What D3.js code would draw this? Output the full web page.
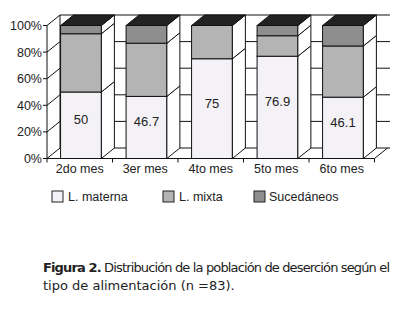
<!DOCTYPE html>
<html lang="es">
  <head>
    <meta charset="utf-8">
    <title>Figura 2 | Distribución de la población de deserción</title>
    <script type="text/javascript" src="https://cdn.jsdelivr.net/npm/d3@7/dist/d3.min.js"></script>

    <style>
    body {
      margin: 0;
      background: #fff;
    }
    #chart text {
      font-family: "Liberation Sans", Arial, sans-serif;
      fill: #222;
    }
    #chart .caption text {
      font-family: "DejaVu Sans", sans-serif;
    }
    </style>
  </head>
  <body>

    <div id="chart"></div>

    <script type="text/javascript">

      // data
      var categories = ["2do mes", "3er mes", "4to mes", "5to mes", "6to mes"];
      var seriesNames = ["L. materna", "L. mixta", "Sucedáneos"];
      var maternaValues = [50, 46.7, 75, 76.9, 46.1];
      var mixtaValues = [43.8, 40, 25, 15.4, 38.5];
      var sucedaneosValues = [6.2, 13.3, 0, 7.7, 15.4];
      var yTicks = [0, 20, 40, 60, 80, 100];
      var captionBold = "Figura 2.";
      var captionLine1 = " Distribución de la población de deserción según el";
      var captionLine2 = "tipo de alimentación (n =83).";

      var colors = ["#f4f2f7", "#b4b4b4", "#8e8e8e"];

      var width = 396, height = 312;
      var depthX = 13, depthY = -10.5; // 3d offset of the back plane

      // table for the stack
      var table = categories.map(function(c, i) {
        var row = {cat: c};
        row[seriesNames[0]] = maternaValues[i];
        row[seriesNames[1]] = mixtaValues[i];
        row[seriesNames[2]] = sucedaneosValues[i];
        return row;
      });

      var stacked = d3.stack().keys(seriesNames)(table);

      var svg = d3.select("#chart").append("svg")
          .attr("width", width)
          .attr("height", height);

      var x = d3.scaleBand()
          .domain(categories)
          .range([47, 374.5])
          .paddingInner(0.377)
          .paddingOuter(0.1885)
          .align(0.55);

      // plain band (no padding) for the labels and separators
      var xAxisBand = d3.scaleBand()
          .domain(categories)
          .range([47, 374.5]);

      var y = d3.scaleLinear()
          .domain([0, 100])
          .range([158.5, 25.5]);

      var x0 = xAxisBand.range()[0], x1 = xAxisBand.range()[1];

      var walls = svg.append("g")
          .attr("stroke", "#111")
          .attr("stroke-width", 1)
          .attr("fill", "none");

      // back wall gridlines
      walls.selectAll(".backgrid")
          .data(yTicks)
          .enter().append("line")
            .attr("x1", x0 + depthX)
            .attr("x2", x1 + depthX + 2.5)
            .attr("y1", function(d) { return y(d) + depthY; })
            .attr("y2", function(d) { return y(d) + depthY; });

      // left wall gridlines (diagonals)
      walls.selectAll(".sidegrid")
          .data(yTicks)
          .enter().append("line")
            .attr("x1", x0)
            .attr("x2", x0 + depthX)
            .attr("y1", function(d) { return y(d); })
            .attr("y2", function(d) { return y(d) + depthY; });

      // left wall back edge
      walls.append("line")
          .attr("x1", x0 + depthX).attr("x2", x0 + depthX)
          .attr("y1", y(0) + depthY).attr("y2", y(100) + depthY);

      // floor: right edge
      walls.append("line")
          .attr("x1", x1).attr("x2", x1 + depthX)
          .attr("y1", y(0)).attr("y2", y(0) + depthY);

      // bars
      var barGroups = svg.selectAll(".serie")
          .data(stacked)
          .enter().append("g")
            .attr("class", "serie");

      var segs = barGroups.selectAll(".seg")
          .data(function(s, si) {
            return s.map(function(d) {
              return {cat: d.data.cat, y0: d[0], y1: d[1], si: si};
            }).filter(function(d) { return d.y1 - d.y0 > 0; });
          })
          .enter().append("g")
            .attr("class", "seg");

      // front face
      segs.append("rect")
          .attr("x", function(d) { return x(d.cat); })
          .attr("y", function(d) { return y(d.y1); })
          .attr("width", x.bandwidth())
          .attr("height", function(d) { return y(d.y0) - y(d.y1); })
          .attr("fill", function(d) { return colors[d.si]; })
          .attr("stroke", "#111")
          .attr("stroke-width", 1);

      // side face (white in the print)
      segs.append("path")
          .attr("d", function(d) {
            var xr = x(d.cat) + x.bandwidth();
            return "M" + xr + "," + y(d.y0) +
                   "L" + xr + "," + y(d.y1) +
                   "L" + (xr + depthX) + "," + (y(d.y1) + depthY) +
                   "L" + (xr + depthX) + "," + (y(d.y0) + depthY) + "Z";
          })
          .attr("fill", "#fff")
          .attr("stroke", "#111")
          .attr("stroke-width", 1);

      // top face of each full bar
      svg.selectAll(".top")
          .data(categories)
          .enter().append("path")
            .attr("d", function(c) {
              var xl = x(c), xr = x(c) + x.bandwidth(), yt = y(100);
              return "M" + xl + "," + yt +
                     "L" + (xl + depthX) + "," + (yt + depthY) +
                     "L" + (xr + depthX) + "," + (yt + depthY) +
                     "L" + xr + "," + yt + "Z";
            })
            .attr("fill", "#222")
            .attr("stroke", "#111")
            .attr("stroke-width", 1);

      // front axes
      var axes = svg.append("g")
          .attr("stroke", "#111")
          .attr("stroke-width", 1);

      axes.append("line")
          .attr("x1", x0).attr("x2", x0)
          .attr("y1", y(0)).attr("y2", y(100));

      axes.append("line")
          .attr("x1", x0).attr("x2", x1)
          .attr("y1", y(0)).attr("y2", y(0));

      axes.selectAll(".ytick")
          .data(yTicks)
          .enter().append("line")
            .attr("x1", x0 - 4).attr("x2", x0)
            .attr("y1", function(d) { return y(d); })
            .attr("y2", function(d) { return y(d); });

      axes.selectAll(".xtick")
          .data(categories.concat(["end"]))
          .enter().append("line")
            .attr("x1", function(c, i) { return x0 + xAxisBand.step() * i; })
            .attr("x2", function(c, i) { return x0 + xAxisBand.step() * i; })
            .attr("y1", y(0)).attr("y2", y(0) + 4);

      // y labels
      svg.selectAll(".ylabel")
          .data(yTicks)
          .enter().append("text")
            .attr("x", x0 - 5)
            .attr("y", function(d) { return y(d) + 4.5; })
            .attr("text-anchor", "end")
            .attr("font-size", "12.5px")
            .text(function(d) { return d + "%"; });

      // x labels
      svg.selectAll(".xlabel")
          .data(categories)
          .enter().append("text")
            .attr("x", function(c) { return xAxisBand(c) + xAxisBand.bandwidth() / 2; })
            .attr("y", 173)
            .attr("text-anchor", "middle")
            .attr("font-size", "12.5px")
            .text(function(c) { return c; });

      // value labels on L. materna
      svg.selectAll(".vlabel")
          .data(stacked[0])
          .enter().append("text")
            .attr("x", function(d) { return x(d.data.cat) + x.bandwidth() / 2; })
            .attr("y", function(d) { return (y(d[0]) + y(d[1])) / 2 - 1; })
            .attr("text-anchor", "middle")
            .attr("font-size", "13px")
            .attr("fill", "#333")
            .text(function(d) { return d[1] - d[0]; });

      // legend
      var legendX = [52, 163, 254];
      var legend = svg.selectAll(".legend")
          .data(seriesNames)
          .enter().append("g")
            .attr("transform", function(d, i) { return "translate(" + legendX[i] + ",191)"; });

      legend.append("rect")
          .attr("width", 11).attr("height", 11)
          .attr("fill", function(d, i) { return colors[i]; })
          .attr("stroke", "#222");

      legend.append("text")
          .attr("x", function(d, i) { return i == 2 ? 15 : 16; })
          .attr("y", 10)
          .attr("font-size", "12.5px")
          .text(function(d) { return d; });

      // caption
      var cap = svg.append("g").attr("class", "caption");
      var line1 = cap.append("text")
          .attr("x", 43).attr("y", 272)
          .attr("font-size", "13px")
          .attr("textLength", 347)
          .attr("lengthAdjust", "spacing");
      line1.append("tspan").attr("font-weight", "bold").text(captionBold);
      line1.append("tspan").text(captionLine1);

      cap.append("text")
          .attr("x", 43).attr("y", 290)
          .attr("font-size", "13px")
          .text(captionLine2);

    </script>
  </body>
</html>
